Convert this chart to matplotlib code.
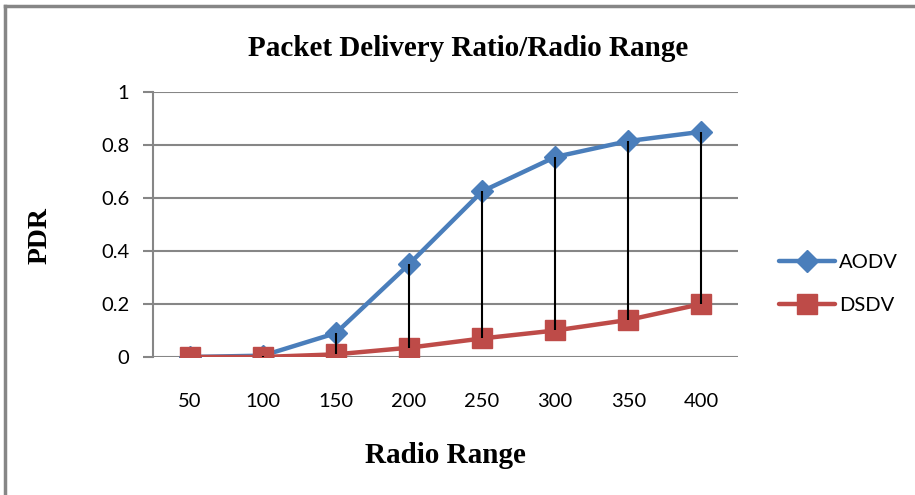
import matplotlib
matplotlib.use("Agg")
import matplotlib.pyplot as plt
from matplotlib.lines import Line2D

ranges = ["50", "100", "150", "200", "250", "300", "350", "400"]
aodv = [0.0, 0.005, 0.09, 0.35, 0.625, 0.755, 0.815, 0.85]
dsdv = [0.0, 0.0, 0.01, 0.035, 0.07, 0.10, 0.14, 0.20]
yticks = [0, 0.2, 0.4, 0.6, 0.8, 1]
ytick_labels = ["0", "0.2", "0.4", "0.6", "0.8", "1"]

BLUE = "#4a7ebb"
RED = "#be4b48"
GRID = "#868686"
SERIF = "Liberation Serif"
SANS = "Lato"

fig = plt.figure(figsize=(9.15, 4.95), dpi=100)
ax = fig.add_axes([0.1672, 0.2788, 0.6394, 0.5353])

x = list(range(len(ranges)))

# high-low lines between the two series
ax.vlines(x, dsdv, aodv, color="black", linewidth=1.5, zorder=4)

ax.plot(x, aodv, color=BLUE, linewidth=3.2, marker="D", markersize=11,
        markerfacecolor=BLUE, markeredgecolor=BLUE, zorder=3, solid_capstyle="round")
ax.plot(x, dsdv, color=RED, linewidth=3.2, marker="s", markersize=14,
        markerfacecolor=RED, markeredgecolor=RED, zorder=3, solid_capstyle="round")

ax.set_xlim(-0.5, len(ranges) - 0.5)
ax.set_ylim(0, 1)
ax.set_xticks(x)
ax.set_xticklabels(ranges, fontfamily=SANS, fontsize=14.5)
ax.set_yticks(yticks)
ax.set_yticklabels(ytick_labels, fontfamily=SANS, fontsize=14.5)
ax.tick_params(axis="x", length=0, pad=26)
ax.tick_params(axis="y", length=7, width=1.5, color=GRID, pad=10, direction="out")
ax.yaxis.grid(True, color=GRID, linewidth=1.5)
ax.set_axisbelow(True)
for side in ["top", "right", "bottom"]:
    ax.spines[side].set_visible(False)
ax.spines["left"].set_color(GRID)
ax.spines["left"].set_linewidth(1.5)
ax.spines["left"].set_bounds(0, 1)

ax.set_title("Packet Delivery Ratio/Radio Range", fontfamily=SERIF, fontweight="bold",
             fontsize=21, pad=26, x=0.538)
ax.set_xlabel("Radio Range", fontfamily=SERIF, fontweight="bold", fontsize=21, labelpad=23)
ax.set_ylabel("PDR", fontfamily=SERIF, fontweight="bold", fontsize=20)
ax.yaxis.set_label_coords(-0.172, 0.46)

handles = [
    Line2D([], [], color=BLUE, linewidth=3.2, marker="D", markersize=11, solid_capstyle="round"),
    Line2D([], [], color=RED, linewidth=3.2, marker="s", markersize=14, solid_capstyle="round"),
]
fig.legend(handles, ["AODV", "DSDV"], loc="center left", bbox_to_anchor=(0.832, 0.426),
           frameon=False, prop={"family": SANS, "size": 14.5}, handlelength=2.75,
           handletextpad=0.2, labelspacing=1.3)

# grey frame around the chart area
fig.add_artist(Line2D([0.006, 0.006], [0.0, 0.988], color=GRID, linewidth=2.5,
                      transform=fig.transFigure))
fig.add_artist(Line2D([0.006, 1.0], [0.988, 0.988], color=GRID, linewidth=2.5,
                      transform=fig.transFigure))

fig.savefig("out.png", dpi=100)
